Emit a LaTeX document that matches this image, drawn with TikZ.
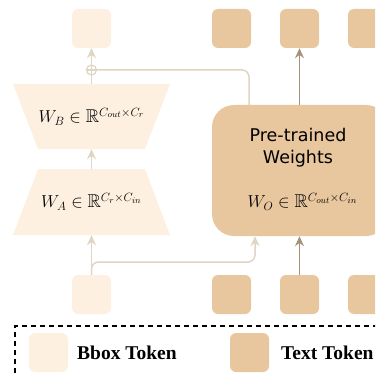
\documentclass[tikz,border=0pt]{standalone}
\usepackage{amssymb}
\usepackage{fontspec}
\setmainfont{Liberation Serif}
\newfontfamily\comicfont{DejaVu Sans}
\usetikzlibrary{arrows.meta}
\definecolor{bboxfill}{HTML}{FDF0E0}
\definecolor{textfill}{HTML}{E8C79F}
\definecolor{lightarr}{HTML}{E0D4C3}
\definecolor{darkarr}{HTML}{A6917A}
\tikzset{
  token/.style={minimum width=39pt, minimum height=39pt, inner sep=0, rounded corners=6pt},
  btok/.style={token, fill=bboxfill},
  ttok/.style={token, fill=textfill},
  lightline/.style={draw=lightarr, line width=1.5pt},
  lightarrow/.style={lightline, -{Stealth[length=10pt,width=9pt]}},
  darkarrow/.style={draw=darkarr, line width=1.5pt, -{Stealth[length=10pt,width=9pt]}},
  mathlbl/.style={inner sep=0, font=\fontsize{18.5}{20}\selectfont},
  leglbl/.style={anchor=west, inner sep=0, font=\fontsize{19.5}{22}\selectfont\bfseries},
}
\begin{document}
\begin{tikzpicture}[x=1pt, y=-1pt]
\useasboundingbox (0,0) rectangle (375,377);
\clip (0,0) rectangle (375,377);
% tokens top
\node[btok] (bt1) at (91.5,28.5) {};
\node[ttok] (tt1) at (231.5,28.5) {};
\node[ttok] (tt2) at (299.5,28.5) {};
\node[ttok] (tt3) at (367.5,28.5) {};
% tokens bottom
\node[btok] (bb1) at (91.5,294.5) {};
\node[ttok] (tb1) at (231.5,294.5) {};
\node[ttok] (tb2) at (299.5,294.5) {};
\node[ttok] (tb3) at (367.5,294.5) {};
% trapezoids
\fill[bboxfill] (13,84) -- (170,84) -- (145,149) -- (38,149) -- cycle;
\node[mathlbl, minimum width=107pt, minimum height=65pt] (WB) at (91.5,116.5) {$W_B \in \mathbb{R}^{C_{out}\times C_r}$};
\fill[bboxfill] (38,169) -- (145,169) -- (170,235) -- (13,235) -- cycle;
\node[mathlbl, minimum width=107pt, minimum height=66pt] (WA) at (91.5,202) {$W_A \in \mathbb{R}^{C_r\times C_{in}}$};
% big box
\node[fill=textfill, rounded corners=22pt, minimum width=176pt, minimum height=131pt, inner sep=0] (PW) at (300,170.5) {};
\node[align=center, inner sep=0, font=\comicfont\fontsize{17.5}{22}\selectfont] (PWt) at (298,148) {Pre-trained\\Weights};
\node[mathlbl] (WO) at (302.5,202) {$W_O \in \mathbb{R}^{C_{out}\times C_{in}}$};
% oplus
\node[circle, draw=lightarr, line width=1.2pt, minimum size=10pt, inner sep=0] (op) at (91.5,70) {};
\draw[lightarr, line width=1.2pt] (op.north) -- (op.south) (op.west) -- (op.east);
% coordinates
\coordinate (c1) at (249,70);
\coordinate (c2) at (255,262);
% light connectors
\draw[lightarrow] (bb1.north) -- (WA.south);
\draw[lightarrow, rounded corners=7pt] (bb1.north) |- (c2) -- (c2 |- PW.south);
\draw[lightarrow] (WA.north) -- (WB.south);
\draw[lightline] (WB.north) -- (op.south);
\draw[lightarrow] (op.north) -- (bt1.south);
\draw[lightline, rounded corners=7pt] (op.east) -| (c1 |- PW.north);
% dark connectors
\draw[darkarrow] (tb2.north) -- (tb2.north |- PW.south);
\draw[darkarrow] (tt2.south |- PW.north) -- (tt2.south);
% legend
\draw[line width=1.2pt, dash pattern=on 5pt off 4pt] (15,400) -- (15,326) -- (400,326);
\node[btok] (lb) at (48.5,352.5) {};
\node[leglbl] (lbt) at (77,353) {Bbox Token};
\node[ttok] (lt) at (249.5,352.5) {};
\node[leglbl] (ltt) at (281,353) {Text Token};
\end{tikzpicture}
\end{document}
